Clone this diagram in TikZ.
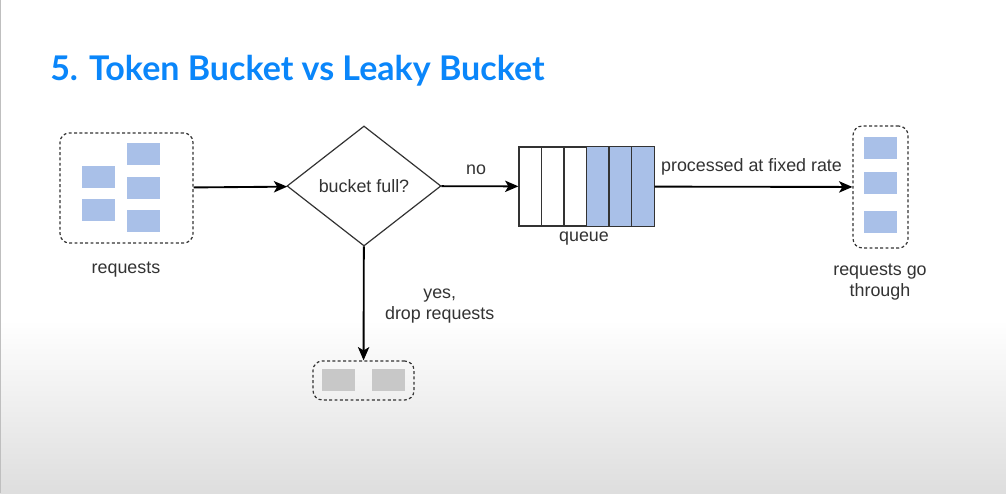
\documentclass[tikz,border=0pt]{standalone}
\usepackage{fontspec}
\setmainfont{Liberation Sans}
\newfontfamily\titlefont{Lato}
\usetikzlibrary{shapes.geometric,arrows.meta,positioning}
\definecolor{reqblue}{RGB}{169,192,232}
\definecolor{dropgray}{RGB}{200,200,200}
\definecolor{titleblue}{RGB}{10,134,250}
\definecolor{txtgray}{RGB}{51,51,51}
\tikzset{
  dashbox/.style={draw=txtgray,dash pattern=on 2.2pt off 1.8pt,rounded corners=7pt,line width=0.9pt,inner sep=0pt},
  flowarrow/.style={-{Stealth[length=10pt,width=8.5pt,inset=2.5pt]},line width=1.4pt,black},
  lbl/.style={font=\fontsize{13.4}{15.5}\selectfont,text=txtgray,align=center},
}
\begin{document}
\begin{tikzpicture}[x=0.75pt,y=-0.75pt]
\useasboundingbox (0,0) rectangle (1006,493);
% background
\fill[white] (0,0) rectangle (1006,493);
\shade[top color=white,bottom color=black!13] (0,320) rectangle (1006,493);
\draw[black!25,line width=1pt] (0.5,0) -- (0.5,493);
% title
\node[anchor=base west,inner sep=0pt,text=titleblue,font=\titlefont\bfseries\fontsize{25.5}{29}\selectfont] (title) at (50,80) {5. Token Bucket vs Leaky Bucket};
% boxes
\node[dashbox,minimum width=99.75pt,minimum height=82.5pt] (req) at (126.5,188) {};
\node[draw=txtgray,diamond,line width=0.9pt,minimum width=115.5pt,minimum height=90pt,inner sep=0pt,lbl] (full) at (364,186) {bucket full?};
\node[draw=txtgray,line width=0.9pt,minimum width=101.25pt,minimum height=59.25pt,inner sep=0pt] (queue) at (586.5,186.5) {};
\node[dashbox,minimum width=41.25pt,minimum height=91.5pt] (out) at (880.5,187) {};
\node[dashbox,minimum width=75.75pt,minimum height=29.25pt] (drop) at (363.5,380.5) {};
% requests in
\foreach \y in {166,199}{\fill[reqblue] (82,\y) rectangle ++(33,22);}
\foreach \y in {143,177,210}{\fill[reqblue] (127,\y) rectangle ++(33,22);}
% queue cells
\pgfmathsetmacro{\qcell}{135/6}
\foreach \k in {3,4,5}{\fill[reqblue] (519+\k*\qcell,147) rectangle ++(\qcell,79);}
\foreach \k in {1,...,5}{\draw[txtgray,line width=0.9pt] (519+\k*\qcell,147) -- ++(0,79);}
\draw[txtgray,line width=0.9pt] (queue.south west) rectangle (queue.north east);
% requests out / dropped
\foreach \y in {137,172,211}{\fill[reqblue] (864,\y) rectangle ++(33,22);}
\foreach \x in {322,372}{\fill[dropgray] (\x,369) rectangle ++(33,22);}
% labels
\node[lbl] (reqlbl) at (126,270) {requests};
\node[lbl] (qlbl) at (584,239) {queue};
\node[lbl] (outlbl) at (880,282) {requests go\\through};
% connectors
\draw[flowarrow] (req) -- (full);
\draw[flowarrow] (full) -- node[lbl,above=5pt,pos=0.45]{no} (queue);
\draw[flowarrow] (queue) -- node[lbl,above=5pt,pos=0.49]{processed at fixed rate} (out);
\draw[flowarrow] (full) -- node[lbl,right=12pt,pos=0.52]{yes,\\drop requests} (drop);
\end{tikzpicture}
\end{document}
